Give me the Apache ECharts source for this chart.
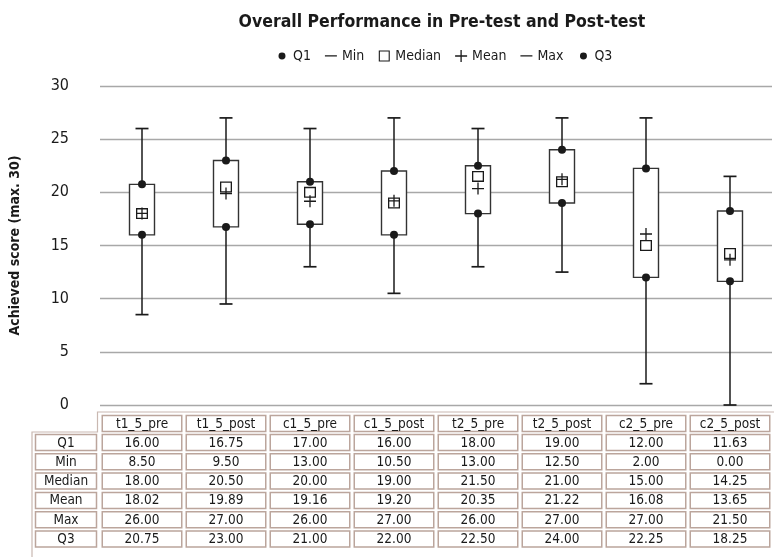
<!DOCTYPE html>
<html>
<head>
<meta charset="utf-8">
<script src="https://cdn.jsdelivr.net/npm/echarts@6/dist/echarts.min.js"></script>
<style>html,body{margin:0;padding:0;background:#fff;}#c{width:774px;height:557px;}</style>
</head>
<body>
<div id="c"></div>
<script>
var categories = ['t1_5_pre','t1_5_post','c1_5_pre','c1_5_post','t2_5_pre','t2_5_post','c2_5_pre','c2_5_post'];
var q1Values     = [16.00, 16.75, 17.00, 16.00, 18.00, 19.00, 12.00, 11.63];
var minValues    = [8.50, 9.50, 13.00, 10.50, 13.00, 12.50, 2.00, 0.00];
var medianValues = [18.00, 20.50, 20.00, 19.00, 21.50, 21.00, 15.00, 14.25];
var meanValues   = [18.02, 19.89, 19.16, 19.20, 20.35, 21.22, 16.08, 13.65];
var maxValues    = [26.00, 27.00, 26.00, 27.00, 26.00, 27.00, 27.00, 21.50];
var q3Values     = [20.75, 23.00, 21.00, 22.00, 22.50, 24.00, 22.25, 18.25];
var yTicks = [0, 5, 10, 15, 20, 25, 30];

var FONT = "'DejaVu Sans Condensed', 'Liberation Sans Narrow', sans-serif";
var INK = '#1a1a1a';
var CELL = '#bba59c';

var boxData = categories.map(function (c, i) {
  return [i, minValues[i], q1Values[i], q3Values[i], maxValues[i]];
});

var corner = 'M0,0h.01v.01h-.01z M12,12h.01v.01h-.01z ';
var dotIcon = 'path://' + corner + 'M6,2.5a3.5,3.5 0 1,1 0,7a3.5,3.5 0 1,1 0,-7z';
var dashIcon = 'path://' + corner + 'M0,5.3h12v1.3h-12z';
var squareIcon = 'path://' + corner + 'M0.5,0.5h11v11h-11z M1.6,1.6v8.8h8.8v-8.8z';
var plusPath = 'path://M5.35,0h1.3v5.35h5.35v1.3h-5.35v5.35h-1.3v-5.35h-5.35v-1.3h5.35z';
var squarePath = 'path://M0,0h12v11h-12z M1.3,1.3v8.4h9.4v-8.4z';

var chart = echarts.init(document.getElementById('c'), null, {renderer: 'canvas'});

function scatter(name, data, symbol, size) {
  return {
    name: name, type: 'scatter', data: data, symbol: symbol, symbolSize: size,
    itemStyle: {color: INK, opacity: 1, borderWidth: 0}, silent: true,
    emphasis: {disabled: true}, z: 3
  };
}

var option = {
  animation: false,
  backgroundColor: '#fff',
  textStyle: {fontFamily: FONT},
  title: {
    text: 'Overall Performance in Pre-test and Post-test',
    left: 437, textAlign: 'center', top: 8,
    textStyle: {fontFamily: FONT, fontSize: 17.5, fontWeight: 'bold', color: INK}
  },
  legend: {
    top: 44, left: 271, itemWidth: 12, itemHeight: 12, itemGap: 14,
    selectedMode: false,
    textStyle: {fontFamily: FONT, fontSize: 14, color: INK},
    data: [
      {name: 'Q1', icon: dotIcon},
      {name: 'Min', icon: dashIcon},
      {name: 'Median', icon: squareIcon},
      {name: 'Mean', icon: plusPath},
      {name: 'Max', icon: dashIcon},
      {name: 'Q3', icon: dotIcon}
    ]
  },
  grid: {left: 100, right: 2, top: 86, bottom: 152, containLabel: false},
  xAxis: {
    type: 'category', data: categories, boundaryGap: true,
    axisLine: {show: false}, axisTick: {show: false}, axisLabel: {show: false}
  },
  yAxis: {
    type: 'value', min: yTicks[0], max: yTicks[yTicks.length - 1], interval: 5,
    name: 'Achieved score (max. 30)', nameLocation: 'middle', nameGap: 78, nameRotate: 90,
    nameTextStyle: {fontFamily: FONT, fontSize: 14, fontWeight: 'bold', color: INK},
    axisLine: {show: false}, axisTick: {show: false},
    axisLabel: {fontFamily: FONT, fontSize: 16, color: INK, margin: 31},
    splitLine: {lineStyle: {color: '#a8a8a8', width: 1.3}}
  },
  series: [
    {
      type: 'custom', name: 'box', data: boxData, silent: true, z: 2,
      encode: {x: 0, y: [1, 2, 3, 4]},
      renderItem: function (params, api) {
        var x = api.coord([api.value(0), 0])[0];
        var yMin = api.coord([api.value(0), api.value(1)])[1];
        var yQ1 = api.coord([api.value(0), api.value(2)])[1];
        var yQ3 = api.coord([api.value(0), api.value(3)])[1];
        var yMax = api.coord([api.value(0), api.value(4)])[1];
        var bw = 25;
        return {
          type: 'group', children: [
            {type: 'line', shape: {x1: x, y1: yMin, x2: x, y2: yQ1}, style: {stroke: INK, lineWidth: 1.5}},
            {type: 'line', shape: {x1: x, y1: yQ3, x2: x, y2: yMax}, style: {stroke: INK, lineWidth: 1.5}},
            {type: 'rect', shape: {x: x - bw / 2, y: yQ3, width: bw, height: yQ1 - yQ3},
             style: {fill: '#fff', stroke: '#333', lineWidth: 1.4}}
          ]
        };
      }
    },
    scatter('Q1', q1Values, 'circle', 8),
    scatter('Min', minValues, 'rect', [13, 1.7]),
    scatter('Median', medianValues, squarePath, [12, 11]),
    scatter('Mean', meanValues, plusPath, 12),
    scatter('Max', maxValues, 'rect', [13, 1.7]),
    scatter('Q3', q3Values, 'circle', 8)
  ]
};
chart.setOption(option);

// Data table under the plot, aligned to the category axis
var rowNames = ['Q1', 'Min', 'Median', 'Mean', 'Max', 'Q3'];
var rowValues = [q1Values, minValues, medianValues, meanValues, maxValues, q3Values];
var y0 = chart.convertToPixel({yAxisIndex: 0}, 0);
var band = chart.convertToPixel({xAxisIndex: 0}, 1) - chart.convertToPixel({xAxisIndex: 0}, 0);
var firstLeft = chart.convertToPixel({xAxisIndex: 0}, 0) - band / 2;
var headerY = y0 + 18.5;
var rowY0 = y0 + 37.5;
var rowPitch = 19.3;
var cellW = band - 4.5, cellH = 16;
var labelLeft = 35.5, labelRight = firstLeft - 3.5;
var g = [];
function cell(cx, cy, w, txt) {
  g.push({type: 'rect', silent: true, shape: {x: cx - w / 2, y: cy - cellH / 2, width: w, height: cellH},
          style: {fill: '#fff', stroke: CELL, lineWidth: 1.5}, z: 10});
  g.push({type: 'text', silent: true, x: cx, y: cy + 0.5, z: 11,
          style: {text: txt, fill: INK, font: '13.5px ' + FONT, align: 'center', verticalAlign: 'middle'}});
}
// outer frame lines
var frameTop = y0 + 7, frameMid = headerY + 8.5;
g.push({type: 'polyline', silent: true, z: 9,
        shape: {points: [[774, frameTop], [firstLeft - 2.5, frameTop], [firstLeft - 2.5, frameMid], [32, frameMid], [32, 557]]},
        style: {stroke: '#c9b8b1', lineWidth: 1.2, fill: null}});
categories.forEach(function (c, i) {
  var cx = chart.convertToPixel({xAxisIndex: 0}, i);
  cell(cx, headerY, cellW, c);
  rowValues.forEach(function (vals, r) {
    cell(cx, rowY0 + r * rowPitch, cellW, vals[i].toFixed(2));
  });
});
rowNames.forEach(function (n, r) {
  cell((labelLeft + labelRight) / 2, rowY0 + r * rowPitch, labelRight - labelLeft, n);
});
chart.setOption({graphic: g});
</script>
</body>
</html>
